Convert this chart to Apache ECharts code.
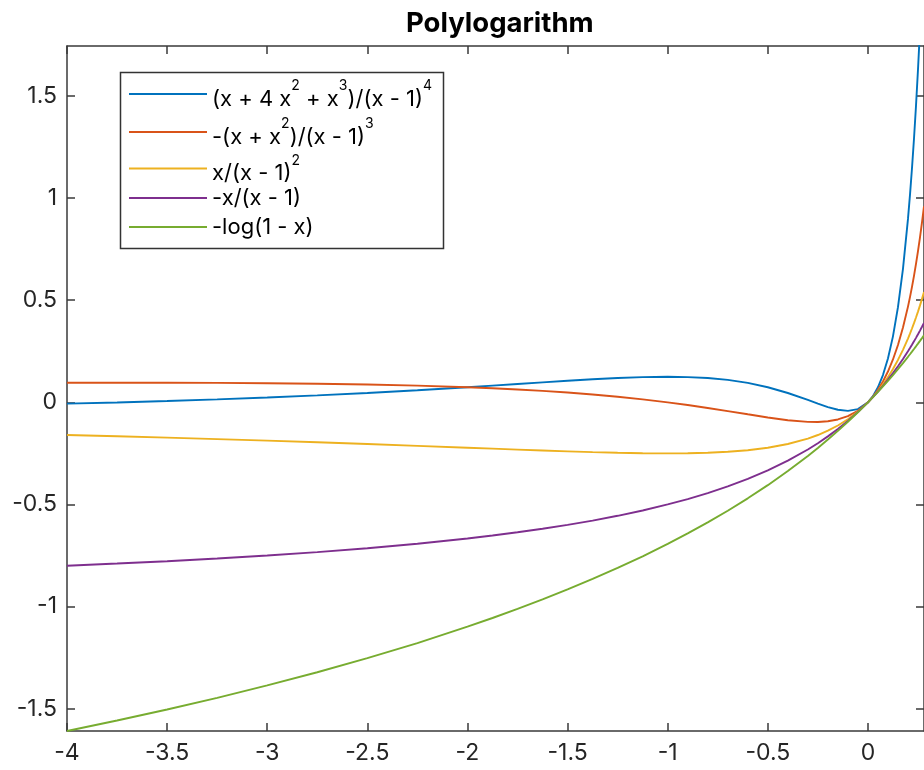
<!DOCTYPE html>
<html>
<head>
<meta charset="utf-8">
<script src="https://cdn.jsdelivr.net/npm/echarts@6/dist/echarts.min.js"></script>
<style>
html,body{margin:0;padding:0;background:#fff;}
#chart{width:924px;height:770px;}
</style>
</head>
<body>
<div id="chart"></div>
<script>
// ---- data ----
var xValues = [-4, -3.75, -3.5, -3.25, -3, -2.75, -2.5, -2.25, -2, -1.875, -1.75, -1.625, -1.5, -1.375, -1.25, -1.125, -1, -0.9, -0.8, -0.7, -0.6, -0.5, -0.4, -0.3, -0.25, -0.2, -0.15, -0.1, -0.05, 0, 0.025, 0.05, 0.075, 0.1, 0.125, 0.15, 0.175, 0.2, 0.21, 0.22, 0.23, 0.24, 0.25, 0.26, 0.27, 0.28];
var liMinus3 = [-0.0064, -0.0005, 0.0064, 0.0143, 0.0234, 0.0339, 0.0458, 0.0592, 0.0741, 0.0819, 0.0899, 0.0979, 0.1056, 0.1128, 0.1189, 0.1233, 0.125, 0.1236, 0.1189, 0.1098, 0.0952, 0.0741, 0.0458, 0.0116, -0.0064, -0.0231, -0.0362, -0.0417, -0.0330, 0, 0.0305, 0.0738, 0.1338, 0.2149, 0.3232, 0.4662, 0.6538, 0.8984, 1.0158, 1.1461, 1.2908, 1.4514, 1.6296, 1.8274, 2.0469, 2.2905];
var liMinus2 = [0.0960, 0.0962, 0.0960, 0.0953, 0.0938, 0.0913, 0.0875, 0.0819, 0.0741, 0.0690, 0.0631, 0.0562, 0.0480, 0.0385, 0.0274, 0.0147, 0, -0.0131, -0.0274, -0.0427, -0.0586, -0.0741, -0.0875, -0.0956, -0.0960, -0.0926, -0.0838, -0.0676, -0.0410, 0, 0.0277, 0.0612, 0.1019, 0.1509, 0.2099, 0.2809, 0.3662, 0.4688, 0.5154, 0.5656, 0.6197, 0.6779, 0.7407, 0.8084, 0.8815, 0.9602];
var liMinus1 = [-0.16, -0.1662, -0.1728, -0.1799, -0.1875, -0.1956, -0.2041, -0.2130, -0.2222, -0.2268, -0.2314, -0.2358, -0.24, -0.2438, -0.2469, -0.2491, -0.25, -0.2493, -0.2469, -0.2422, -0.2344, -0.2222, -0.2041, -0.1775, -0.16, -0.1389, -0.1134, -0.0826, -0.0454, 0, 0.0263, 0.0554, 0.0877, 0.1235, 0.1633, 0.2076, 0.2571, 0.3125, 0.3365, 0.3616, 0.3879, 0.4155, 0.4444, 0.4748, 0.5067, 0.5401];
var li0 = [-0.8, -0.7895, -0.7778, -0.7647, -0.75, -0.7333, -0.7143, -0.6923, -0.6667, -0.6522, -0.6364, -0.6190, -0.6, -0.5789, -0.5556, -0.5294, -0.5, -0.4737, -0.4444, -0.4118, -0.375, -0.3333, -0.2857, -0.2308, -0.2, -0.1667, -0.1304, -0.0909, -0.0476, 0, 0.0256, 0.0526, 0.0811, 0.1111, 0.1429, 0.1765, 0.2121, 0.25, 0.2658, 0.2821, 0.2987, 0.3158, 0.3333, 0.3514, 0.3699, 0.3889];
var li1 = [-1.6094, -1.5581, -1.5041, -1.4469, -1.3863, -1.3218, -1.2528, -1.1787, -1.0986, -1.0561, -1.0116, -0.9651, -0.9163, -0.8650, -0.8109, -0.7538, -0.6931, -0.6419, -0.5878, -0.5306, -0.4700, -0.4055, -0.3365, -0.2624, -0.2231, -0.1823, -0.1398, -0.0953, -0.0488, 0, 0.0253, 0.0513, 0.0780, 0.1054, 0.1335, 0.1625, 0.1924, 0.2231, 0.2357, 0.2485, 0.2614, 0.2744, 0.2877, 0.3011, 0.3147, 0.3285];

var seriesNames = ['(x + 4 x^2 + x^3)/(x - 1)^4', '-(x + x^2)/(x - 1)^3', 'x/(x - 1)^2', '-x/(x - 1)', '-log(1 - x)'];
var legendRich = [
  '{a|(x + 4 x}{s|2}{a| + x}{s|3}{a|)/(x - 1)}{s|4}',
  '{a|-(x + x}{s|2}{a|)/(x - 1)}{s|3}',
  '{a|x/(x - 1)}{s|2}',
  '{b|-x/(x - 1)}',
  '{b|-log(1 - x)}'
];
var xTicks = [-4, -3.5, -3, -2.5, -2, -1.5, -1, -0.5, 0];
var yTicks = [-1.5, -1, -0.5, 0, 0.5, 1, 1.5];
var xRange = [-4, 0.28];
var yRange = [-1.6094, 1.745];
var colors = ['#0072BD', '#D95319', '#EDB120', '#7E2F8E', '#77AC30'];

var allY = [liMinus3, liMinus2, liMinus1, li0, li1];

function pairs(ys) {
  return xValues.map(function (x, i) { return [x, ys[i]]; });
}

var FONT = 'Inter, "Liberation Sans", Arial, sans-serif';
var axisColor = '#3a3a3a';

var chart = echarts.init(document.getElementById('chart'));

var series = allY.map(function (ys, i) {
  return {
    name: seriesNames[i],
    type: 'line',
    xAxisIndex: 0,
    yAxisIndex: 0,
    data: pairs(ys),
    symbol: 'none',
    smooth: false,
    clip: true,
    lineStyle: { color: colors[i], width: 1.9 },
    itemStyle: { color: colors[i] },
    emphasis: { disabled: true },
    animation: false
  };
});

// legend rows (one legend component per row, stacked inside one box)
var legendRowCenter = [93, 131, 167.5, 202, 231];
var legends = seriesNames.map(function (name, i) {
  return {
    show: true,
    orient: 'vertical',
    left: 129,
    top: legendRowCenter[i] - 15,
    padding: 0,
    itemGap: 0,
    itemWidth: 78,
    itemHeight: 2,
    icon: 'rect',
    selectedMode: false,
    z: 5,
    data: [name],
    formatter: function (n) { return legendRich[seriesNames.indexOf(n)]; },
    textStyle: {
      fontFamily: FONT,
      color: '#000',
      rich: {
        a: { fontFamily: FONT, fontSize: 22, lineHeight: 30, color: '#000', padding: [10, 0, 0, 0] },
        b: { fontFamily: FONT, fontSize: 22, lineHeight: 30, color: '#000' },
        s: { fontFamily: FONT, fontSize: 14, lineHeight: 30, color: '#000', verticalAlign: 'top', padding: [0, 0, 0, 0] }
      }
    }
  };
});

var option = {
  animation: false,
  backgroundColor: '#ffffff',
  title: {
    text: 'Polylogarithm',
    left: 406,
    top: 10,
    padding: 0,
    textStyle: { fontFamily: FONT, fontSize: 27.5, fontWeight: 'bold', color: '#000' }
  },
  grid: { left: 67, top: 46, right: -6, bottom: 39, containLabel: false },
  xAxis: [{
    type: 'value', position: 'bottom', min: xRange[0], max: xRange[1],
    axisLine: { show: true, onZero: false, lineStyle: { color: axisColor, width: 1.5 } },
    axisTick: { show: true, inside: true, length: 8, customValues: xTicks, lineStyle: { color: axisColor, width: 1.5 } },
    axisLabel: { show: true, customValues: xTicks, margin: 11, fontFamily: FONT, fontSize: 23, color: '#262626' },
    splitLine: { show: false }
  }, {
    type: 'value', position: 'top', min: xRange[0], max: xRange[1],
    axisLine: { show: true, onZero: false, lineStyle: { color: axisColor, width: 1.5 } },
    axisTick: { show: true, inside: true, length: 8, customValues: xTicks, lineStyle: { color: axisColor, width: 1.5 } },
    axisLabel: { show: false },
    splitLine: { show: false }
  }],
  yAxis: [{
    type: 'value', position: 'left', min: yRange[0], max: yRange[1],
    axisLine: { show: true, onZero: false, lineStyle: { color: axisColor, width: 1.5 } },
    axisTick: { show: true, inside: true, length: 8, customValues: yTicks, lineStyle: { color: axisColor, width: 1.5 } },
    axisLabel: { show: true, customValues: yTicks, margin: 10, fontFamily: FONT, fontSize: 23, color: '#262626' },
    splitLine: { show: false }
  }, {
    type: 'value', position: 'right', min: yRange[0], max: yRange[1],
    axisLine: { show: true, onZero: false, lineStyle: { color: axisColor, width: 1.5 } },
    axisTick: { show: true, inside: true, length: 8, customValues: yTicks, lineStyle: { color: axisColor, width: 1.5 } },
    axisLabel: { show: false },
    splitLine: { show: false }
  }],
  legend: legends,
  graphic: [{
    type: 'rect',
    z: 3,
    shape: { x: 120.5, y: 72.5, width: 323, height: 176 },
    style: { fill: '#ffffff', stroke: '#333333', lineWidth: 1.5 }
  }],
  series: series
};

chart.setOption(option);
</script>
</body>
</html>
